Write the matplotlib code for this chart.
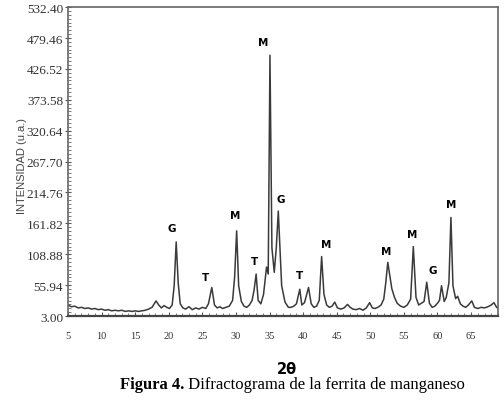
import numpy as np
import matplotlib
matplotlib.use('Agg')
import matplotlib.pyplot as plt
from matplotlib.ticker import MultipleLocator, FixedLocator, AutoMinorLocator

# trace (2theta, intensity u.a.)
two_theta = [5.0, 5.5, 6.0, 6.5, 7.0, 7.5, 8.0, 8.5, 9.0, 9.5, 10.0, 10.5, 11.0, 11.5,
             12.0, 12.5, 13.0, 13.5, 14.0, 14.5, 15.0, 15.5, 16.0, 16.5, 17.0, 17.5,
             18.1, 18.5, 18.9, 19.3, 19.7, 20.1, 20.5, 20.8, 21.1, 21.4, 21.7, 22.1,
             22.5, 23.0, 23.5, 24.0, 24.5, 25.0, 25.5, 25.9, 26.4, 26.8, 27.2, 27.6,
             28.0, 28.5, 29.0, 29.5, 29.8, 30.1, 30.4, 30.8, 31.2, 31.6, 32.0, 32.4,
             32.7, 33.0, 33.3, 33.7, 34.1, 34.55, 34.8, 35.06, 35.35, 35.7, 36.0, 36.3,
             36.8, 37.3, 37.8, 38.2, 38.6, 39.0, 39.5, 39.8, 40.2, 40.8, 41.2,
             41.6, 42.0, 42.4, 42.75, 43.1, 43.5, 43.9, 44.3, 44.7, 45.1, 45.6, 46.1,
             46.6, 47.0, 47.4, 47.9, 48.4, 48.9, 49.4, 49.9, 50.3, 50.7, 51.1, 51.6,
             52.0, 52.3, 52.6, 52.9, 53.2, 53.6, 54.0, 54.5, 55.0, 55.5, 56.0, 56.4,
             56.8, 57.2, 57.6, 58.0, 58.4, 58.8, 59.2, 59.6, 60.0, 60.3, 60.6, 61.0,
             61.3, 61.7, 62.0, 62.3, 62.7, 63.0, 63.4, 63.8, 64.2, 64.6, 65.1, 65.5,
             66.0, 66.5, 67.0, 67.5, 68.0, 68.4, 68.8, 69.0]
intensity = [22, 19, 20, 17, 18, 16, 17, 15, 16, 14, 15, 13, 14, 12,
             13, 12, 13, 11, 12, 11, 12, 11, 12, 13, 15, 18,
             29, 22, 17, 21, 18, 16, 22, 55, 130, 60, 24, 17,
             15, 19, 14, 17, 15, 18, 16, 24, 52, 22, 17, 19,
             16, 18, 20, 30, 70, 149, 55, 28, 20, 18, 22, 30,
             48, 75, 30, 24, 40, 87, 75, 450, 120, 78, 120, 183,
             55, 27, 18, 18, 20, 24, 49, 22, 26, 52, 24,
             18, 20, 30, 105, 40, 22, 18, 20, 27, 17, 15, 17,
             23, 18, 15, 14, 16, 13, 17, 26, 17, 16, 18, 22,
             32, 60, 95, 72, 50, 35, 25, 20, 18, 22, 32, 122,
             35, 22, 25, 28, 61, 25, 18, 20, 25, 30, 55, 28,
             35, 60, 172, 55, 33, 37, 24, 20, 18, 22, 29, 18,
             16, 18, 17, 19, 22, 26, 18, 17]

# phase labels and where they sit
phase_labels = ['G', 'T', 'M', 'T', 'M', 'G', 'T', 'M', 'M', 'M', 'G', 'M']
label_x = [20.5, 25.5, 29.9, 32.8, 34.0, 36.7, 39.5, 43.5, 52.3, 56.3, 59.3, 62.1]
label_y = [145, 61, 167, 89, 464, 195, 65, 118, 106, 135, 73, 186]

y_ticks = [3.00, 55.94, 108.88, 161.82, 214.76, 267.70, 320.64, 373.58, 426.52, 479.46, 532.40]
x_ticks = [5, 10, 15, 20, 25, 30, 35, 40, 45, 50, 55, 60, 65]

serif = ['Liberation Serif', 'DejaVu Serif']

fig = plt.figure(figsize=(5.04, 4.06), dpi=100)
ax = fig.add_axes([0.135, 0.219, 0.853, 0.761])

ax.plot(two_theta, intensity, color='#3a3a3a', lw=1.1)

for lab, xx, yy in zip(phase_labels, label_x, label_y):
    ax.text(xx, yy, lab, fontsize=7.5, fontweight='bold', color='black',
            ha='center', va='bottom', family='DejaVu Sans')

ax.set_xlim(5, 69)
ax.set_ylim(3.0, 532.4)

ax.yaxis.set_major_locator(FixedLocator(y_ticks))
ax.set_yticklabels(['%.2f' % v for v in y_ticks], family=serif, fontsize=9.5, color='#333333')
ax.yaxis.set_minor_locator(AutoMinorLocator(8))
ax.xaxis.set_major_locator(FixedLocator(x_ticks))
ax.set_xticklabels([str(v) for v in x_ticks], family=serif, fontsize=7.5, color='#333333')
ax.xaxis.set_minor_locator(MultipleLocator(1))

ax.tick_params(axis='y', which='major', direction='inout', length=5, width=0.8, pad=1, colors='#555555', labelcolor='#333333')
ax.tick_params(axis='y', which='minor', direction='in', length=2.5, width=0.6, colors='#666666')
ax.tick_params(axis='x', which='major', direction='in', length=3, width=0.8, pad=11, colors='#555555', labelcolor='#333333')
ax.tick_params(axis='x', which='minor', direction='in', length=2, width=0.6, colors='#666666')

for s in ax.spines.values():
    s.set_color('#666666')
    s.set_linewidth(1.2)
ax.spines['bottom'].set_linewidth(1.6)
ax.spines['bottom'].set_color('#444444')

fig.text(0.044, 0.59, 'INTENSIDAD (u.a.)', rotation=90, ha='center', va='center',
         fontsize=8, color='#444444', family=['Liberation Sans', 'DejaVu Sans'])

fig.text(0.57, 0.089, '2θ', ha='center', va='center', fontsize=10.5, fontweight='bold',
         family='DejaVu Sans')

# caption: bold "Figura 4." then the plain part right after it
cap = fig.text(0.238, 0.052, 'Figura 4.', ha='left', va='center', fontsize=12,
               fontweight='bold', family=serif)
fig.canvas.draw()
bb = cap.get_window_extent()
fig.text(bb.x1 / fig.bbox.width, 0.052, ' Difractograma de la ferrita de manganeso',
         fontsize=12, family=serif, ha='left', va='center')

fig.savefig('out.png', dpi=100)
